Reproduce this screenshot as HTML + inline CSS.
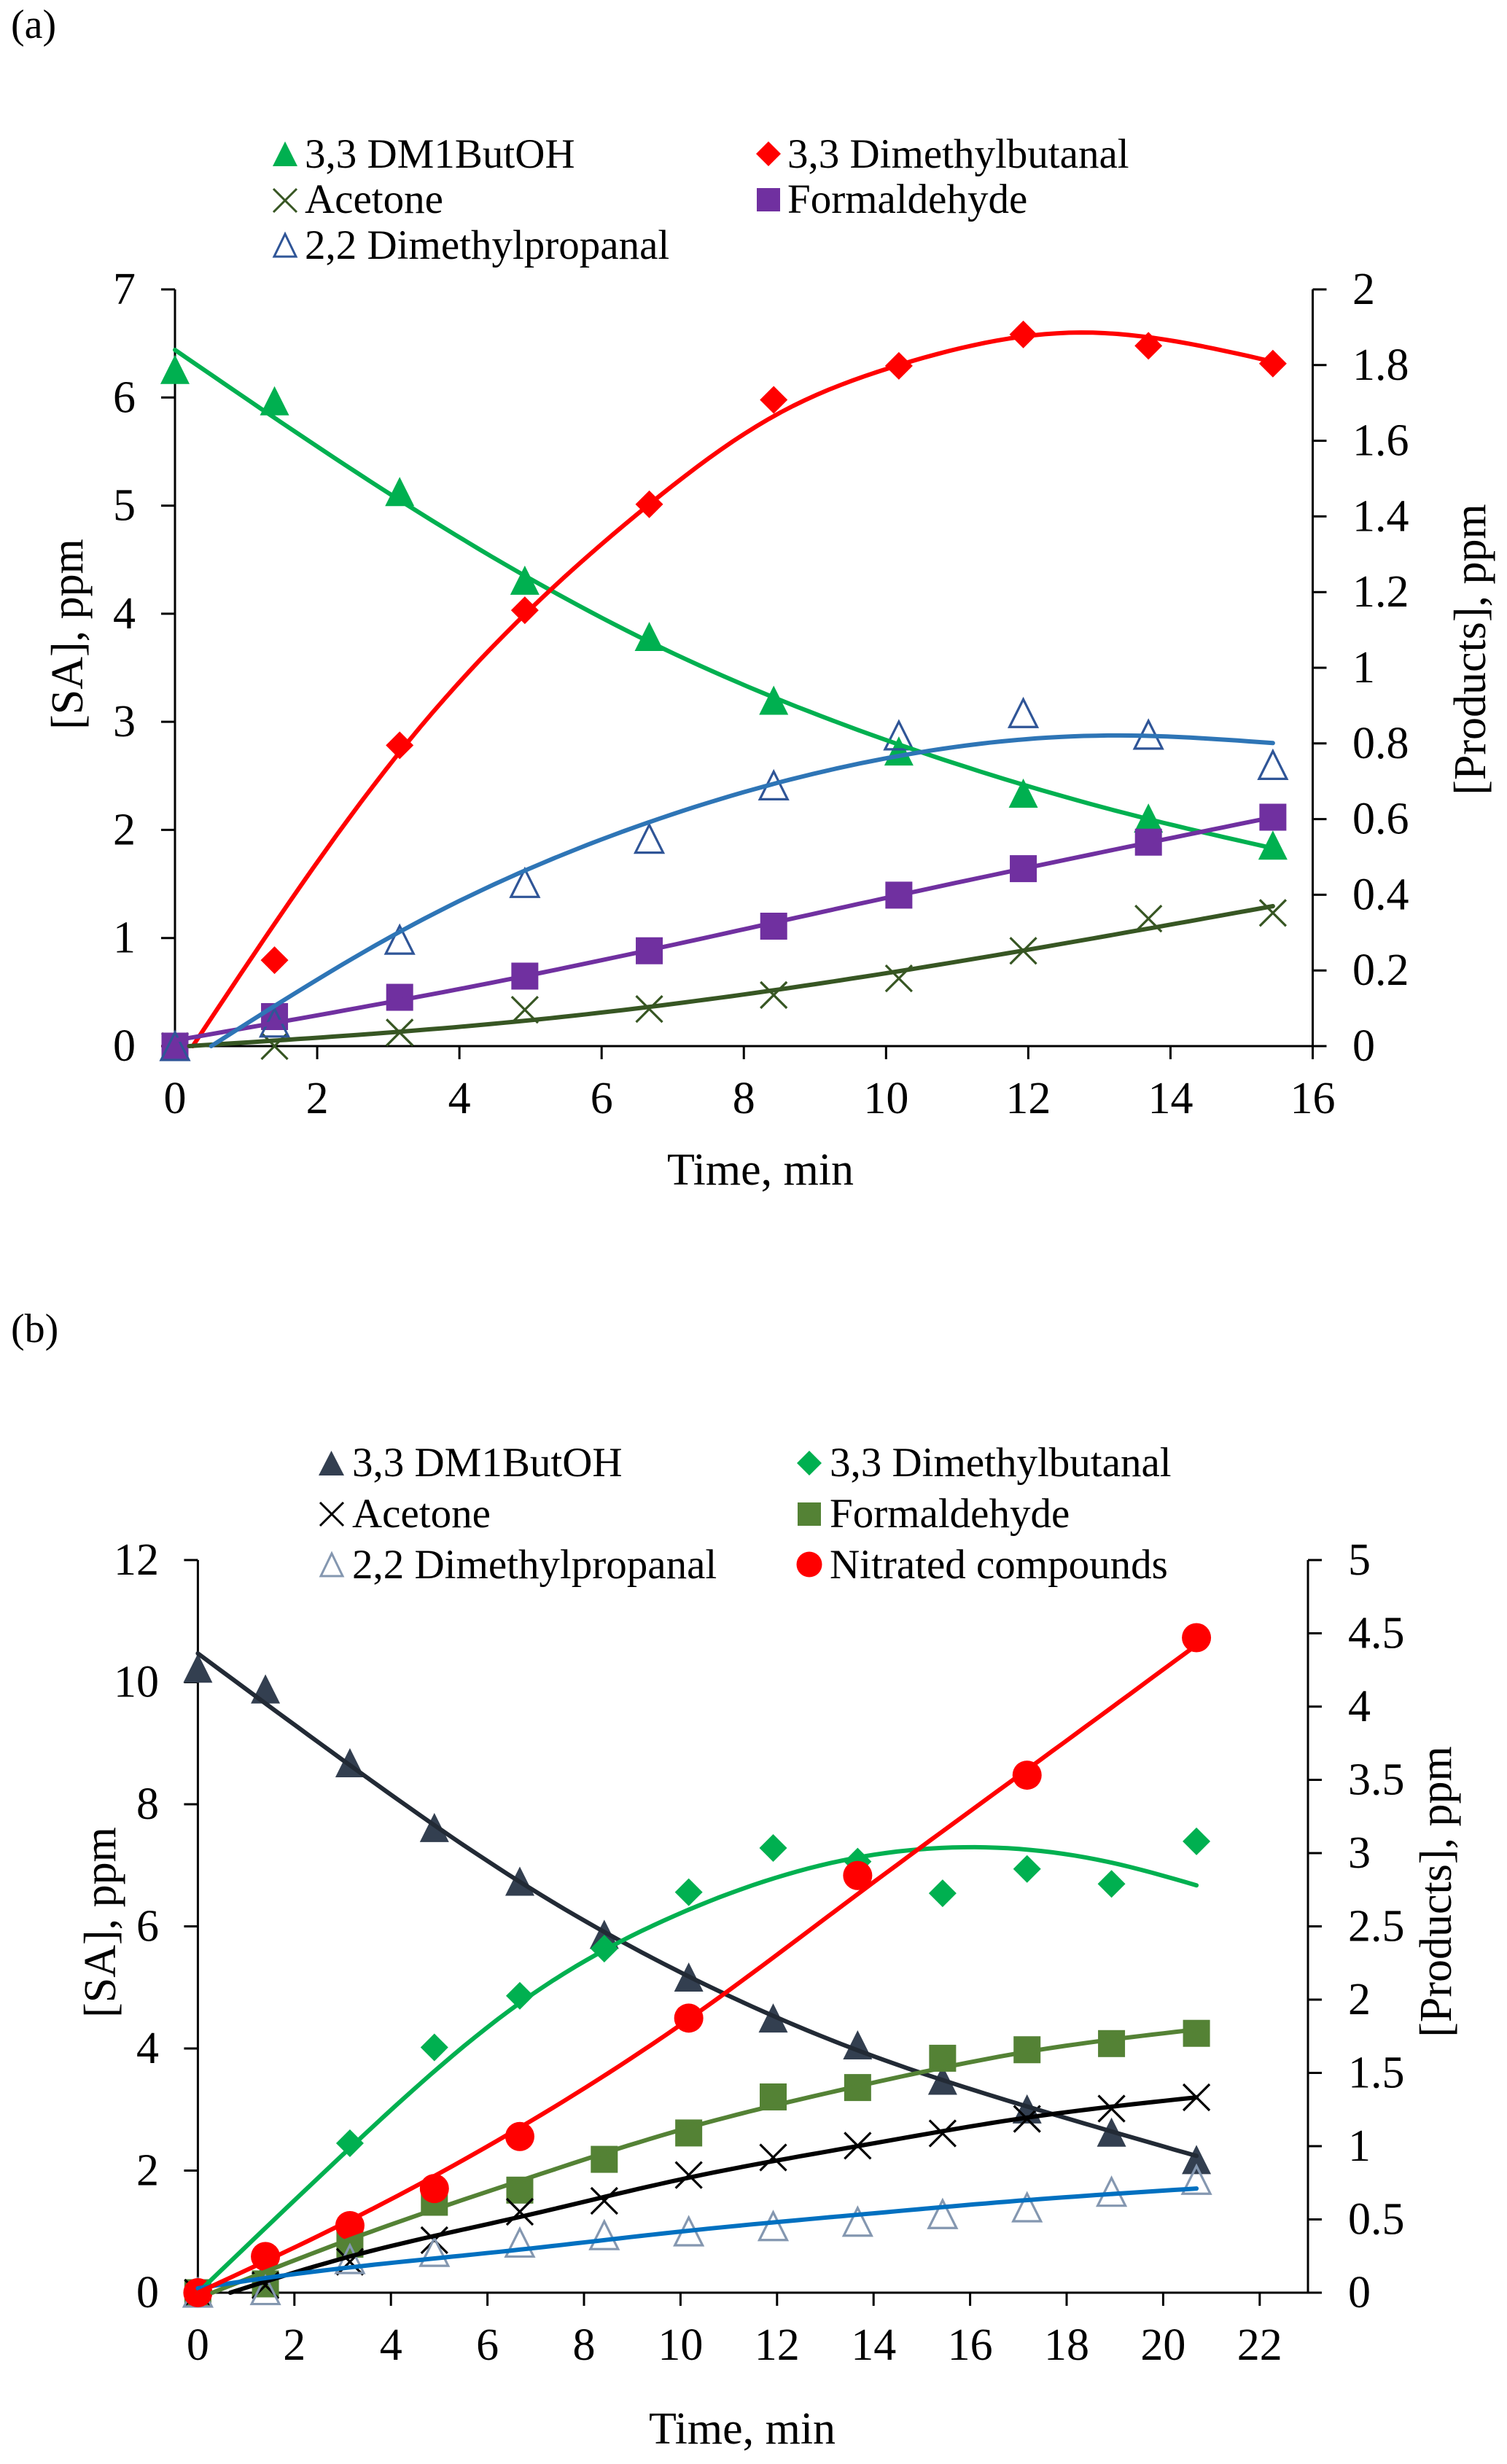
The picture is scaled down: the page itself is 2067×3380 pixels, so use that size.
<!DOCTYPE html>
<html lang="en">
<head>
<meta charset="utf-8">
<title>3,3 DM1ButOH reaction profiles</title>
<style>
html,body{margin:0;padding:0;background:#fff;}
svg{display:block;}
text{font-family:"Liberation Serif","Times New Roman",serif;fill:#000;}
.leg{font-size:57px;}
.tick{font-size:62px;}
.title{font-size:62px;}
.panel{font-size:56px;}
</style>
</head>
<body>
<svg id="figure" xmlns="http://www.w3.org/2000/svg" width="2067" height="3380" viewBox="0 0 2067 3380">
  <rect width="2067" height="3380" fill="#fff"/>

  <text class="panel" x="15" y="52">(a)</text>
  <g id="chart-a"></g>
  <text class="title" x="1043" y="1625" text-anchor="middle">Time, min</text>
  <text class="title" text-anchor="middle" transform="translate(113,870) rotate(-90)">[SA], ppm</text>
  <text class="title" text-anchor="middle" transform="translate(2037,891) rotate(-90)">[Products], ppm</text>

  <g>
    <g>
      <polygon points="374,228 408,228 391,194" fill="#00B050"/>
      <text class="leg" x="418" y="230">3,3 DM1ButOH</text>
    </g>
    <g>
      <path d="M375,259 L407,291 M407,259 L375,291" stroke="#375623" stroke-width="3" fill="none"/>
      <text class="leg" x="418" y="292">Acetone</text>
    </g>
    <g>
      <polygon points="376,352 406,352 391,321" fill="none" stroke="#2F5597" stroke-width="3"/>
      <text class="leg" x="418" y="355">2,2 Dimethylpropanal</text>
    </g>
    <g>
      <polygon points="1054,194 1071,211 1054,228 1037,211" fill="#FF0000"/>
      <text class="leg" x="1080" y="230">3,3 Dimethylbutanal</text>
    </g>
    <g>
      <rect x="1038" y="258" width="32" height="32" fill="#7030A0"/>
      <text class="leg" x="1080" y="292">Formaldehyde</text>
    </g>
  </g>

  <text class="panel" x="15" y="1841">(b)</text>
  <g id="chart-b"></g>
  <text class="title" x="1018" y="3352" text-anchor="middle">Time, min</text>
  <text class="title" text-anchor="middle" transform="translate(158,2637) rotate(-90)">[SA], ppm</text>
  <text class="title" text-anchor="middle" transform="translate(1990,2595) rotate(-90)">[Products], ppm</text>

  <g>
    <g>
      <polygon points="437,2024 472,2024 454.500,1990" fill="#333F50"/>
      <text class="leg" x="483" y="2025">3,3 DM1ButOH</text>
    </g>
    <g>
      <path d="M439,2061 L471,2093 M471,2061 L439,2093" stroke="#000" stroke-width="3" fill="none"/>
      <text class="leg" x="483" y="2095">Acetone</text>
    </g>
    <g>
      <polygon points="440,2162 470,2162 455,2131" fill="none" stroke="#8497B0" stroke-width="3"/>
      <text class="leg" x="483" y="2165">2,2 Dimethylpropanal</text>
    </g>
    <g>
      <polygon points="1110,1990 1127,2007 1110,2024 1093,2007" fill="#00B050"/>
      <text class="leg" x="1138" y="2025">3,3 Dimethylbutanal</text>
    </g>
    <g>
      <rect x="1094" y="2061" width="32" height="32" fill="#548235"/>
      <text class="leg" x="1138" y="2095">Formaldehyde</text>
    </g>
    <g>
      <circle cx="1110" cy="2146" r="17.500" fill="#FF0000"/>
      <text class="leg" x="1138" y="2165">Nitrated compounds</text>
    </g>
  </g>
</svg>

<script>
/* ---------- Chart (a) data ---------- */
const aXTicks = [0, 2, 4, 6, 8, 10, 12, 14, 16];
const aLeftTicks = [0, 1, 2, 3, 4, 5, 6, 7];
const aRightTicks = [0, 0.2, 0.4, 0.6, 0.8, 1, 1.2, 1.4, 1.6, 1.8, 2];
const aTimes = [0, 1.4, 3.16, 4.92, 6.67, 8.42, 10.18, 11.93, 13.69, 15.44];

const aSaPoints = [6.26, 5.97, 5.13, 4.31, 3.79, 3.2, 2.73, 2.34, 2.11, 1.86];
const aButanalPoints = [0, 0.227, 0.795, 1.152, 1.432, 1.708, 1.798, 1.881, 1.851, 1.804];
const aAcetonePoints = [0, 0, 0.036, 0.096, 0.098, 0.135, 0.179, 0.252, 0.337, 0.352];
const aFormaldehydePoints = [0, 0.078, 0.129, 0.185, 0.252, 0.317, 0.399, 0.469, 0.539, 0.605];
const aPropanalPoints = [0, 0.062, 0.281, 0.431, 0.548, 0.689, 0.821, 0.88, 0.823, 0.743];

const aSaFitTimes = [0, 3.16, 6.67, 10.18, 13.69, 15.44];
const aSaFit = [6.44, 5.05, 3.74, 2.79, 2.1, 1.83];
const aButanalFitTimes = [0.25, 3.16, 6.67, 8.42, 10.18, 12.7, 15.44];
const aButanalFit = [0, 0.777, 1.432, 1.665, 1.8, 1.886, 1.809];
const aPropanalFitTimes = [0.51, 3.16, 6.67, 10.18, 13.2, 15.44];
const aPropanalFit = [0, 0.302, 0.592, 0.767, 0.821, 0.801];
const aFormaldehydeFitTimes = [0, 4.92, 10.18, 15.44];
const aFormaldehydeFit = [0.015, 0.185, 0.399, 0.605];
const aAcetoneFitTimes = [0.2, 4.92, 10.18, 15.44];
const aAcetoneFit = [0, 0.067, 0.198, 0.37];

/* ---------- Chart (b) data ---------- */
const bXTicks = [0, 2, 4, 6, 8, 10, 12, 14, 16, 18, 20, 22];
const bLeftTicks = [0, 2, 4, 6, 8, 10, 12];
const bRightTicks = [0, 0.5, 1, 1.5, 2, 2.5, 3, 3.5, 4, 4.5, 5];
const bTimes = [0, 1.4, 3.15, 4.9, 6.67, 8.42, 10.17, 11.92, 13.67, 15.43, 17.18, 18.93, 20.69];
const bNitratedTimes = [0, 1.4, 3.15, 4.9, 6.67, 10.17, 13.67, 17.18, 20.69];

const bSaPoints = [10.23, 9.89, 8.68, 7.62, 6.74, 5.87, 5.17, 4.5, 4.06, 3.48, 3.01, 2.63, 2.18];
const bButanalPoints = [0, 0.1, 1.02, 1.674, 2.026, 2.348, 2.733, 3.035, 2.942, 2.726, 2.892, 2.79, 3.08];
const bAcetonePoints = [0, 0.05, 0.211, 0.358, 0.552, 0.627, 0.803, 0.923, 1.003, 1.087, 1.186, 1.256, 1.333];
const bFormaldehydePoints = [0, 0.06, 0.331, 0.617, 0.7, 0.91, 1.09, 1.336, 1.4, 1.6, 1.658, 1.7, 1.77];
const bPropanalPoints = [0, 0.017, 0.229, 0.278, 0.341, 0.392, 0.418, 0.454, 0.484, 0.536, 0.582, 0.688, 0.77];
const bNitratedPoints = [0, 0.247, 0.458, 0.711, 1.066, 1.874, 2.847, 3.532, 4.47];

const bSaFitTimes = [0, 3.15, 6.67, 10.17, 13.67, 17.18, 20.69];
const bSaFit = [10.47, 8.64, 6.73, 5.18, 3.97, 3.05, 2.24];
const bButanalFitTimes = [0, 3.15, 6.67, 10.17, 13.67, 16.2, 18.93, 20.69];
const bButanalFit = [0, 0.987, 1.977, 2.614, 2.97, 3.04, 2.935, 2.78];
const bNitratedFitTimes = [0, 3.15, 6.67, 10.17, 13.67, 17.18, 20.69];
const bNitratedFit = [0, 0.494, 1.127, 1.867, 2.72, 3.57, 4.42];
const bFormaldehydeFitTimes = [0.3, 3.15, 6.67, 10.17, 13.67, 17.18, 20.69];
const bFormaldehydeFit = [0, 0.364, 0.763, 1.127, 1.409, 1.644, 1.796];
const bAcetoneFitTimes = [0.67, 3.15, 6.67, 10.17, 13.67, 17.18, 20.69];
const bAcetoneFit = [0, 0.247, 0.517, 0.785, 1.0, 1.195, 1.333];
const bPropanalFitTimes = [0, 1.4, 6.67, 10.17, 13.67, 17.18, 20.69];
const bPropanalFit = [0.03, 0.1, 0.294, 0.423, 0.532, 0.632, 0.711];

/* ---------- Axis functions ---------- */
const aX = function (t) { return 240 + t * (1800.5 - 240) / 16; };
const aYLeft = function (v) { return 1435 - v * (1435 - 397) / 7; };
const aYRight = function (v) { return 1435 - v * (1435 - 397) / 2; };
const bX = function (t) { return 271.4 + t * 66.2; };
const bYLeft = function (v) { return 3145 - v * (3145 - 2140) / 12; };
const bYRight = function (v) { return 3145 - v * (3145 - 2140) / 5; };

const SVG_NS = 'http://www.w3.org/2000/svg';

function make(tag, parent, attrs) {
  const el = document.createElementNS(SVG_NS, tag);
  for (const k in attrs) el.setAttribute(k, attrs[k]);
  parent.appendChild(el);
  return el;
}

/* Natural cubic spline through the read knots, sampled into a polyline. */
function smoothPath(ts, vs, xFn, yFn) {
  const n = ts.length;
  const m = new Array(n).fill(0);
  const u = new Array(n).fill(0);
  for (let i = 1; i < n - 1; i++) {
    const sig = (ts[i] - ts[i - 1]) / (ts[i + 1] - ts[i - 1]);
    const p = sig * m[i - 1] + 2;
    m[i] = (sig - 1) / p;
    const d = (vs[i + 1] - vs[i]) / (ts[i + 1] - ts[i]) - (vs[i] - vs[i - 1]) / (ts[i] - ts[i - 1]);
    u[i] = (6 * d / (ts[i + 1] - ts[i - 1]) - sig * u[i - 1]) / p;
  }
  for (let i = n - 2; i >= 0; i--) m[i] = m[i] * m[i + 1] + u[i];
  let d = '';
  const steps = 90;
  let seg = 0;
  for (let s = 0; s <= steps; s++) {
    const t = ts[0] + (ts[n - 1] - ts[0]) * s / steps;
    while (seg < n - 2 && t > ts[seg + 1]) seg++;
    const h = ts[seg + 1] - ts[seg];
    const a = (ts[seg + 1] - t) / h, b = (t - ts[seg]) / h;
    const v = a * vs[seg] + b * vs[seg + 1] + ((a * a * a - a) * m[seg] + (b * b * b - b) * m[seg + 1]) * h * h / 6;
    d += (s === 0 ? 'M' : 'L') + xFn(t).toFixed(1) + ',' + yFn(v).toFixed(1);
  }
  return d;
}

function drawMarker(parent, kind, cx, cy, color) {
  const s = 19;
  let el;
  if (kind === 'triangle') {
    el = make('polygon', parent, { points: (cx - s - 1) + ',' + (cy + s + 1) + ' ' + (cx + s + 1) + ',' + (cy + s + 1) + ' ' + cx + ',' + (cy - s - 1), fill: color });
  } else if (kind === 'hollow') {
    el = make('polygon', parent, { points: (cx - s) + ',' + (cy + s) + ' ' + (cx + s) + ',' + (cy + s) + ' ' + cx + ',' + (cy - s), fill: 'none', stroke: color, 'stroke-width': 3.2 });
  } else if (kind === 'diamond') {
    el = make('polygon', parent, { points: cx + ',' + (cy - s) + ' ' + (cx + s) + ',' + cy + ' ' + cx + ',' + (cy + s) + ' ' + (cx - s) + ',' + cy, fill: color });
  } else if (kind === 'square') {
    el = make('rect', parent, { x: cx - 18.5, y: cy - 18.5, width: 37, height: 37, fill: color });
  } else if (kind === 'circle') {
    el = make('circle', parent, { cx: cx, cy: cy, r: 20, fill: color });
  } else {
    el = make('path', parent, { d: 'M' + (cx - 18) + ',' + (cy - 18) + 'L' + (cx + 18) + ',' + (cy + 18) + 'M' + (cx + 18) + ',' + (cy - 18) + 'L' + (cx - 18) + ',' + (cy + 18), fill: 'none', stroke: color, 'stroke-width': 3.2 });
  }
  return el;
}

function drawAxes(g, prefix, geom, xFn, yL, yR, xTicks, leftTicks, rightTicks) {
  const stroke = { stroke: '#000', 'stroke-width': 3, fill: 'none' };
  const frame = make('path', g, Object.assign({ d: 'M' + geom.left + ',' + geom.top + 'V' + geom.bottom + 'H' + geom.right + 'V' + geom.top }, stroke));
  
  

  xTicks.forEach(function (t) {
    const x = xFn(t);
    const tick = make('line', g, Object.assign({ x1: x, x2: x, y1: geom.bottom, y2: geom.bottom + 18 }, stroke));
    
    
    const label = make('text', g, { class: 'tick', x: x, y: geom.bottom + geom.xLabelDy, 'text-anchor': 'middle' });
    label.textContent = String(t);
    
    
  });

  leftTicks.forEach(function (v) {
    const y = yL(v);
    const tick = make('line', g, Object.assign({ x1: geom.left - 19, x2: geom.left, y1: y, y2: y }, stroke));
    
    
    const label = make('text', g, { class: 'tick', x: geom.leftLabelX, y: y + 20, 'text-anchor': 'end' });
    label.textContent = String(v);
    
    
  });

  rightTicks.forEach(function (v) {
    const y = yR(v);
    const tick = make('line', g, Object.assign({ x1: geom.right, x2: geom.right + 19, y1: y, y2: y }, stroke));
    
    
    const label = make('text', g, { class: 'tick', x: geom.rightLabelX, y: y + 20 });
    label.textContent = String(v);
    
    
  });
}

function drawSeries(g, prefix, xFn, seriesList) {
  seriesList.forEach(function (s) {
    s.pointTimes.forEach(function (t, i) {
      const m = drawMarker(g, s.kind, xFn(t), s.y(s.points[i]), s.color);
      
      
    });
  });
  seriesList.forEach(function (s) {
    const path = make('path', g, { d: smoothPath(s.fitTimes, s.fit, xFn, s.y), fill: 'none', stroke: s.lineColor, 'stroke-width': 6, 'stroke-linecap': 'round', 'stroke-linejoin': 'round' });
    
    
  });
}

/* ---------- Render chart (a) ---------- */
const chartA = document.getElementById('chart-a');
drawAxes(chartA, 'chart-a',
  { left: 240, right: 1800.5, top: 397, bottom: 1435, xLabelDy: 92, leftLabelX: 186, rightLabelX: 1855 },
  aX, aYLeft, aYRight, aXTicks, aLeftTicks, aRightTicks);
drawSeries(chartA, 'chart-a', aX, [
  { name: 'dm1butoh', kind: 'triangle', color: '#00B050', lineColor: '#00B050', y: aYLeft, pointTimes: aTimes, points: aSaPoints, fitTimes: aSaFitTimes, fit: aSaFit },
  { name: 'dimethylbutanal', kind: 'diamond', color: '#FF0000', lineColor: '#FF0000', y: aYRight, pointTimes: aTimes, points: aButanalPoints, fitTimes: aButanalFitTimes, fit: aButanalFit },
  { name: 'acetone', kind: 'cross', color: '#375623', lineColor: '#375623', y: aYRight, pointTimes: aTimes, points: aAcetonePoints, fitTimes: aAcetoneFitTimes, fit: aAcetoneFit },
  { name: 'formaldehyde', kind: 'square', color: '#7030A0', lineColor: '#7030A0', y: aYRight, pointTimes: aTimes, points: aFormaldehydePoints, fitTimes: aFormaldehydeFitTimes, fit: aFormaldehydeFit },
  { name: 'dimethylpropanal', kind: 'hollow', color: '#2F5597', lineColor: '#2E75B6', y: aYRight, pointTimes: aTimes, points: aPropanalPoints, fitTimes: aPropanalFitTimes, fit: aPropanalFit }
]);

/* ---------- Render chart (b) ---------- */
const chartB = document.getElementById('chart-b');
drawAxes(chartB, 'chart-b',
  { left: 271.4, right: 1794, top: 2140, bottom: 3145, xLabelDy: 92, leftLabelX: 218, rightLabelX: 1849 },
  bX, bYLeft, bYRight, bXTicks, bLeftTicks, bRightTicks);
drawSeries(chartB, 'chart-b', bX, [
  { name: 'dm1butoh', kind: 'triangle', color: '#333F50', lineColor: '#222A35', y: bYLeft, pointTimes: bTimes, points: bSaPoints, fitTimes: bSaFitTimes, fit: bSaFit },
  { name: 'dimethylbutanal', kind: 'diamond', color: '#00B050', lineColor: '#00B050', y: bYRight, pointTimes: bTimes, points: bButanalPoints, fitTimes: bButanalFitTimes, fit: bButanalFit },
  { name: 'formaldehyde', kind: 'square', color: '#548235', lineColor: '#548235', y: bYRight, pointTimes: bTimes, points: bFormaldehydePoints, fitTimes: bFormaldehydeFitTimes, fit: bFormaldehydeFit },
  { name: 'acetone', kind: 'cross', color: '#000000', lineColor: '#000000', y: bYRight, pointTimes: bTimes, points: bAcetonePoints, fitTimes: bAcetoneFitTimes, fit: bAcetoneFit },
  { name: 'dimethylpropanal', kind: 'hollow', color: '#8497B0', lineColor: '#0070C0', y: bYRight, pointTimes: bTimes, points: bPropanalPoints, fitTimes: bPropanalFitTimes, fit: bPropanalFit },
  { name: 'nitrated-compounds', kind: 'circle', color: '#FF0000', lineColor: '#FF0000', y: bYRight, pointTimes: bNitratedTimes, points: bNitratedPoints, fitTimes: bNitratedFitTimes, fit: bNitratedFit }
]);
</script>
</body>
</html>
